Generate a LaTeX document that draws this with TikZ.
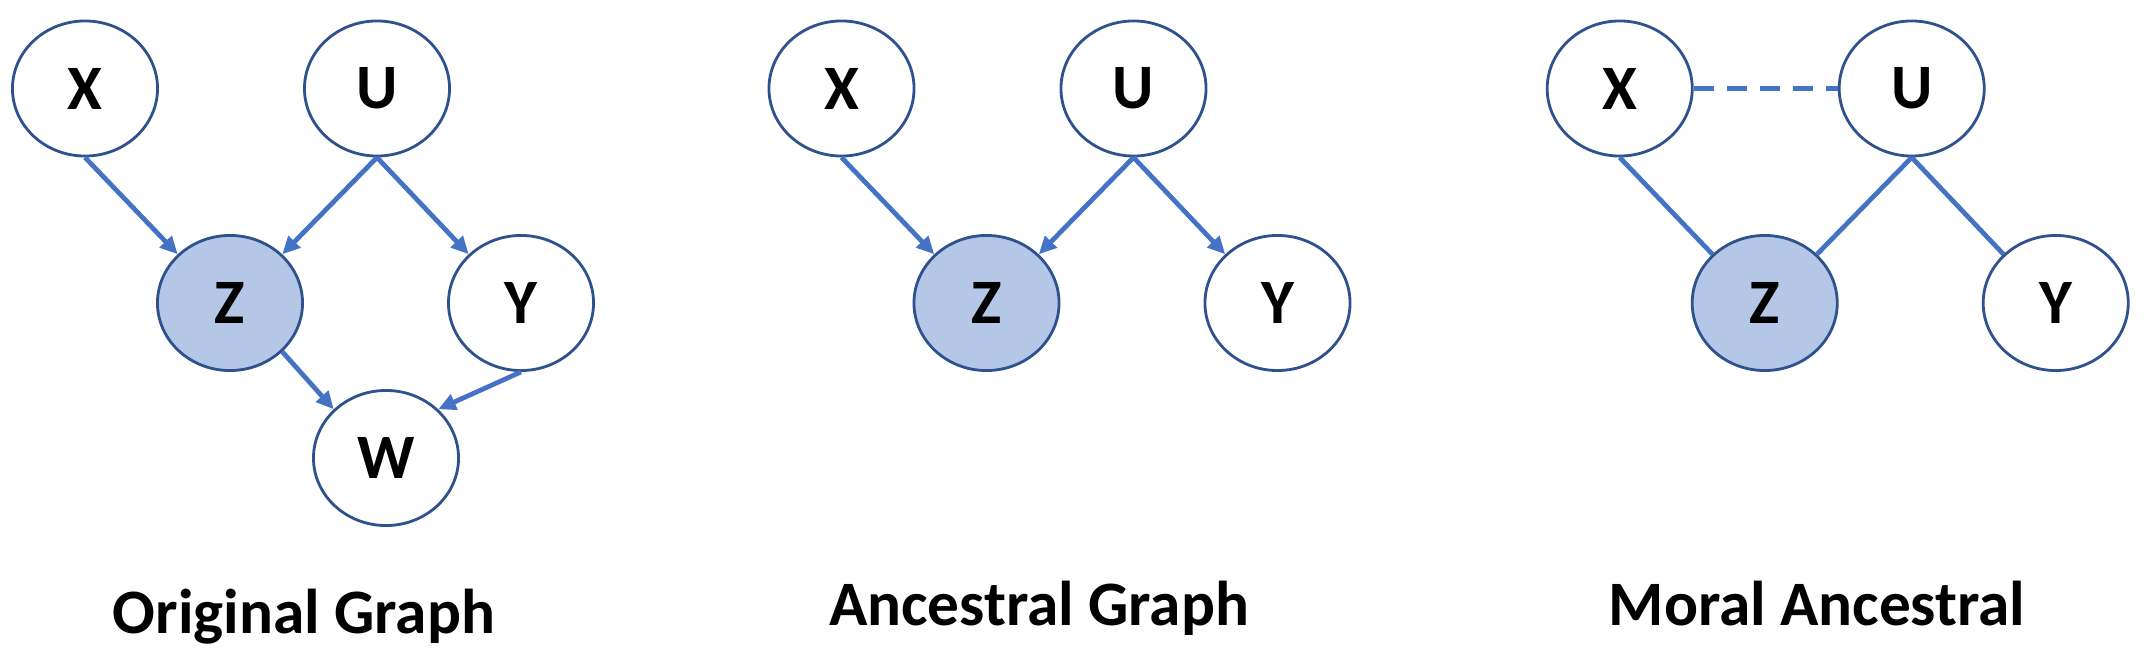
\documentclass[tikz,border=0pt]{standalone}
\usepackage{fontspec}
\setmainfont{Carlito}
\usepackage{tikz}
\usetikzlibrary{shapes.geometric,arrows.meta}
\definecolor{edgeblue}{HTML}{4472C4}
\definecolor{rimblue}{HTML}{2F528F}
\definecolor{seenfill}{HTML}{B4C7E7}

\begin{document}
\begin{tikzpicture}[x=0.01cm, y=-0.01cm,
    var/.style={ellipse, draw=rimblue, line width=0.8pt, fill=white, minimum width=1.45cm, minimum height=1.35cm, inner sep=0pt, font=\fontsize{18}{20}\selectfont\bfseries},
    obs/.style={var, fill=seenfill},
    dir/.style={draw=edgeblue, line width=1.35pt, -{Triangle[length=5pt,width=4.6pt]}},
    undir/.style={draw=edgeblue, line width=1.35pt},
    moral/.style={undir, dash pattern=on 5.7pt off 3.7pt},
    caption/.style={anchor=base, font=\fontsize{18}{20}\selectfont\bfseries}]
    \useasboundingbox (0,0) rectangle (2155,661);

    \node (x1) [var] at (85,88.5) {X};
    \node (u1) [var] at (377,88.5) {U};
    \node (z1) [obs] at (230,303) {Z};
    \node (y1) [var] at (521,303) {Y};
    \node (w1) [var] at (386,458) {W};
    \draw [dir] (x1.south) -- (z1.north west);
    \draw [dir] (u1.south) -- (z1.north east);
    \draw [dir] (u1.south) -- (y1.north west);
    \draw [dir] (z1.south east) -- (w1.north west);
    \draw [dir] (y1.south) -- (w1.north east);
    \node (cap1) [caption] at (304,633) {Original Graph};

    \node (x2) [var] at (841.5,88.5) {X};
    \node (u2) [var] at (1133.5,88.5) {U};
    \node (z2) [obs] at (986.5,303) {Z};
    \node (y2) [var] at (1277.5,303) {Y};
    \draw [dir] (x2.south) -- (z2.north west);
    \draw [dir] (u2.south) -- (z2.north east);
    \draw [dir] (u2.south) -- (y2.north west);
    \node (cap2) [caption] at (1039,625) {Ancestral Graph};

    \node (x3) [var] at (1619.7,88.5) {X};
    \node (u3) [var] at (1911.7,88.5) {U};
    \node (z3) [obs] at (1764.7,303) {Z};
    \node (y3) [var] at (2055.7,303) {Y};
    \draw [undir] (x3.south) -- (z3.north west);
    \draw [undir] (u3.south) -- (z3.north east);
    \draw [undir] (u3.south) -- (y3.north west);
    \draw [moral] (x3.east) -- (u3.west);
    \node (cap3) [caption] at (1817,625) {Moral Ancestral};
\end{tikzpicture}
\end{document}
